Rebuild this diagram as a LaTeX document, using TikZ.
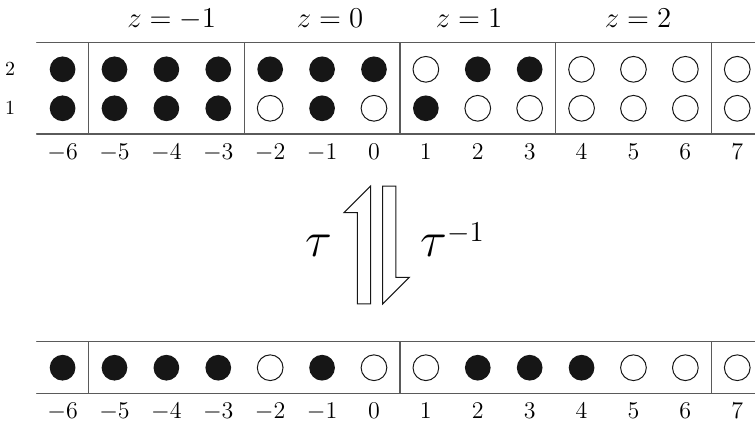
\documentclass[tikz,border=0pt]{standalone}
\usepackage{amsmath}
\usetikzlibrary{arrows.meta}
\definecolor{rule}{HTML}{5A5A5A}
\definecolor{ink}{HTML}{161616}
\tikzset{
  every picture/.style={line join=round, line cap=round},
  bead/.style={circle, fill=ink, minimum size=0.452cm, inner sep=0pt},
  hole/.style={circle, draw=ink, line width=0.5pt, minimum size=0.452cm, inner sep=0pt},
  frame/.style={draw=rule, line width=0.6pt},
  num/.style={anchor=base, inner sep=0pt, font=\large},
  row/.style={inner sep=0pt, font=\normalsize},
  zlab/.style={anchor=base, inner sep=0pt, font=\Large},
  shift arrow/.style={draw=ink, line width=0.5pt, line join=miter},
}

\begin{document}
\begin{tikzpicture}
\useasboundingbox (0,0) rectangle (13.268,7.416);
% upper strip
\draw[frame](0.644,6.665)--(13.268,6.665);
\draw[frame](0.644,5.061)--(13.268,5.061);
\foreach \x in {1.556,4.292,7.028,9.764,12.500}
  \draw[frame](\x,5.061)--(\x,6.665);
\node[row] (rtwo) at (0.176,6.198) {$2$};
\node[row] (rone) at (0.176,5.513) {$1$};
\node[zlab] (zm1) at (3.017,6.941) {$z=-1$};
\node[zlab] (z0) at (5.799,6.941) {$z=0$};
\node[zlab] (z1) at (8.242,6.941) {$z=1$};
\node[zlab] (z2) at (11.212,6.941) {$z=2$};
% lower strip
\draw[frame](0.644,1.411)--(13.268,1.411);
\draw[frame](0.644,0.504)--(13.268,0.504);
\foreach \x in {1.556,7.028,12.500}
  \draw[frame](\x,0.504)--(\x,1.411);
% sites: upper row 2 / upper row 1 / lower strip
\foreach \s/\a/\b/\c [count=\n] in {-6/bead/bead/bead, -5/bead/bead/bead, -4/bead/bead/bead,
    -3/bead/bead/bead, -2/bead/hole/hole, -1/bead/bead/bead, 0/bead/hole/hole,
    1/hole/bead/hole, 2/bead/hole/bead, 3/bead/hole/bead, 4/hole/hole/bead,
    5/hole/hole/hole, 6/hole/hole/hole, 7/hole/hole/hole}{
  \node[\a] (up\n) at ({6.572+0.912*\s},6.198) {};
  \node[\b] (lo\n) at ({6.572+0.912*\s},5.513) {};
  \node[num] (ntop\n) at ({6.572+0.912*\s},4.616) {$\s$};
  \node[\c] (after\n) at ({6.572+0.912*\s},0.954) {};
  \node[num] (nbot\n) at ({6.572+0.912*\s},0.053) {$\s$};
}
% tau and its inverse
\draw[shift arrow](6.279,2.074)--(6.514,2.074)--(6.514,4.147)--(6.045,3.678)--(6.279,3.678)--cycle;
\draw[shift arrow](6.725,4.147)--(6.959,4.147)--(6.959,2.543)--(7.193,2.543)--(6.725,2.074)--cycle;
\node[anchor=base, inner sep=0pt, font=\Huge] (tau) at (5.606,2.905) {$\tau$};
\node[anchor=base west, inner sep=0pt] (tauinv) at (7.381,2.905)
  {\Huge$\tau$\raisebox{7.5pt}{\Large$-1$}};
\end{tikzpicture}
\end{document}
